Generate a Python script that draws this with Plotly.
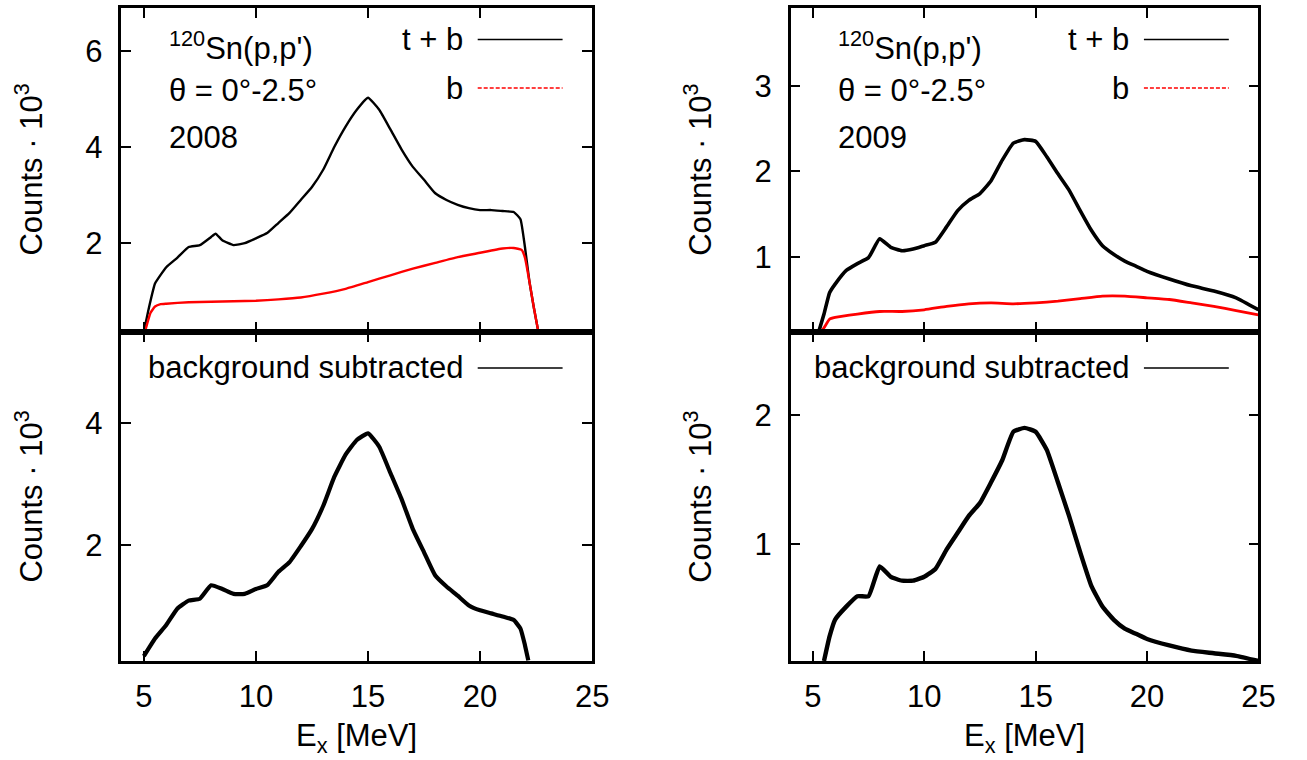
import plotly.graph_objects as go

# ---------------- data (counts in units of 10^3) ----------------
E_tb_2008 = [5.0, 5.25, 5.5, 6.0, 6.5, 7.0, 7.5, 8.0, 8.2, 8.5, 9.0, 9.5, 10.0, 10.5, 11.0, 11.5,
             12.0, 12.5, 13.0, 13.5, 14.0, 14.5, 15.0, 15.5, 16.0, 16.5, 17.0, 17.5, 18.0, 18.5,
             19.0, 19.5, 20.0, 20.5, 21.0, 21.5, 21.8, 22.0, 22.2, 22.4, 22.6]
C_tb_2008 = [0.15, 0.70, 1.16, 1.50, 1.70, 1.92, 1.96, 2.13, 2.20, 2.06, 1.96, 2.00, 2.10, 2.21, 2.42, 2.63,
             2.90, 3.17, 3.53, 4.01, 4.43, 4.78, 5.03, 4.78, 4.37, 3.95, 3.59, 3.32, 3.04, 2.90,
             2.80, 2.73, 2.69, 2.69, 2.67, 2.65, 2.50, 1.92, 1.20, 0.65, 0.15]

E_b_2008 = [5.05, 5.3, 5.5, 5.75, 6.0, 7.0, 8.0, 9.0, 10.0, 11.0, 12.0, 13.0, 14.0, 15.0, 16.0, 17.0,
            18.0, 19.0, 20.0, 21.0, 21.5, 21.85, 22.0, 22.2, 22.4, 22.6]
C_b_2008 = [0.15, 0.55, 0.68, 0.73, 0.74, 0.77, 0.78, 0.79, 0.80, 0.83, 0.87, 0.95, 1.05, 1.19, 1.33, 1.47,
            1.59, 1.71, 1.80, 1.89, 1.90, 1.86, 1.70, 1.20, 0.65, 0.15]

E_sub_2008 = [5.0, 5.5, 6.0, 6.5, 7.0, 7.5, 8.0, 8.5, 9.0, 9.5, 10.0, 10.5, 11.0, 11.5, 12.0, 12.5,
              13.0, 13.5, 14.0, 14.5, 15.0, 15.5, 16.0, 16.5, 17.0, 17.5, 18.0, 18.5, 19.0, 19.5,
              20.0, 20.5, 21.0, 21.5, 21.8, 22.0, 22.15]
C_sub_2008 = [0.18, 0.47, 0.69, 0.96, 1.09, 1.12, 1.34, 1.28, 1.20, 1.20, 1.28, 1.34, 1.56, 1.72, 1.98, 2.26,
              2.64, 3.12, 3.48, 3.72, 3.83, 3.61, 3.18, 2.75, 2.26, 1.88, 1.50, 1.32, 1.17, 1.01,
              0.93, 0.88, 0.83, 0.77, 0.63, 0.36, 0.11]

E_tb_2009 = [5.26, 5.5, 5.75, 6.0, 6.5, 7.0, 7.5, 8.0, 8.5, 9.0, 9.5, 10.0, 10.5, 11.0, 11.5, 12.0,
             12.5, 13.0, 13.5, 14.0, 14.5, 15.0, 15.5, 16.0, 16.5, 17.0, 17.5, 18.0, 18.5, 19.0,
             19.5, 20.0, 21.0, 22.0, 23.0, 24.0, 25.0]
C_tb_2009 = [0.12, 0.33, 0.58, 0.68, 0.84, 0.92, 0.99, 1.21, 1.11, 1.07, 1.09, 1.13, 1.17, 1.35, 1.54, 1.66,
             1.74, 1.89, 2.13, 2.33, 2.37, 2.35, 2.17, 1.97, 1.78, 1.54, 1.31, 1.13, 1.03, 0.95,
             0.89, 0.83, 0.74, 0.66, 0.60, 0.52, 0.38]

E_b_2009 = [5.35, 5.5, 5.75, 6.0, 7.0, 8.0, 9.0, 10.0, 11.0, 12.0, 13.0, 14.0, 15.0, 16.0, 17.0, 18.0,
            19.0, 20.0, 21.0, 22.0, 23.0, 24.0, 25.0]
C_b_2009 = [0.12, 0.17, 0.27, 0.29, 0.33, 0.36, 0.36, 0.38, 0.42, 0.45, 0.46, 0.45, 0.46, 0.48, 0.51, 0.54,
            0.54, 0.52, 0.50, 0.46, 0.42, 0.37, 0.32]

E_sub_2009 = [5.5, 5.75, 6.0, 6.5, 7.0, 7.5, 8.0, 8.5, 9.0, 9.5, 10.0, 10.5, 11.0, 11.5, 12.0, 12.5,
              13.0, 13.5, 14.0, 14.5, 15.0, 15.5, 16.0, 16.5, 17.0, 17.5, 18.0, 18.5, 19.0, 19.5,
              20.0, 21.0, 22.0, 23.0, 24.0, 25.0]
C_sub_2009 = [0.10, 0.29, 0.42, 0.52, 0.60, 0.60, 0.83, 0.75, 0.72, 0.72, 0.75, 0.81, 0.96, 1.09, 1.22, 1.32,
              1.48, 1.65, 1.87, 1.90, 1.87, 1.73, 1.48, 1.22, 0.94, 0.68, 0.52, 0.42, 0.35, 0.31,
              0.27, 0.22, 0.18, 0.16, 0.14, 0.10]

x_ticks = [5, 10, 15, 20, 25]
y_ticks_tl = [2, 4, 6]
y_ticks_bl = [2, 4]
y_ticks_tr = [1, 2, 3]
y_ticks_br = [1, 2]

years = ["2008", "2009"]

# ---------------- geometry helpers ----------------
W, H = 1307, 760
def px(x):
    return x / W
def py(y):
    return 1 - y / H

FONT = "Liberation Sans, Arial, Helvetica, sans-serif"
FS = 31

left_dom = [px(123), px(600)]
right_dom = [px(801), px(1275)]
top_dom = [py(332), py(8)]
bot_dom = [py(661), py(332)]

fig = go.Figure()

def add_line(x, y, xa, ya, color, width):
    fig.add_trace(go.Scatter(x=x, y=y, xaxis=xa, yaxis=ya, mode="lines",
                             line=dict(color=color, width=width, shape="spline", smoothing=0.4),
                             showlegend=False, hoverinfo="skip"))

add_line(E_tb_2008, C_tb_2008, "x", "y", "black", 2.4)
add_line(E_b_2008, C_b_2008, "x", "y", "#ff0000", 2.4)
add_line(E_sub_2008, C_sub_2008, "x2", "y2", "black", 4.2)
add_line(E_tb_2009, C_tb_2009, "x3", "y3", "black", 3.6)
add_line(E_b_2009, C_b_2009, "x3", "y3", "#ff0000", 2.8)
add_line(E_sub_2009, C_sub_2009, "x4", "y4", "black", 4.4)

def axstyle(**kw):
    d = dict(showline=True, linecolor="black", linewidth=2.5, mirror="allticks",
             ticks="inside", ticklen=10, tickwidth=2, tickcolor="black",
             showgrid=False, zeroline=False,
             tickfont=dict(family=FONT, size=FS, color="black"))
    d.update(kw)
    return d

fig.update_layout(
    width=W, height=H,
    margin=dict(l=0, r=0, t=0, b=0),
    paper_bgcolor="white", plot_bgcolor="white",
    showlegend=False,
    xaxis=axstyle(domain=left_dom, anchor="y", range=[4, 25], tickvals=x_ticks, showticklabels=False),
    yaxis=axstyle(domain=top_dom, anchor="x", range=[0.15, 6.9], tickvals=y_ticks_tl, ticklabelstandoff=10),
    xaxis2=axstyle(domain=left_dom, anchor="y2", range=[4, 25], tickvals=x_ticks, ticklabelstandoff=6),
    yaxis2=axstyle(domain=bot_dom, anchor="x2", range=[0.1, 5.49], tickvals=y_ticks_bl, ticklabelstandoff=10),
    xaxis3=axstyle(domain=right_dom, anchor="y3", range=[4, 25], tickvals=x_ticks, showticklabels=False),
    yaxis3=axstyle(domain=top_dom, anchor="x3", range=[0.12, 3.91], tickvals=y_ticks_tr, ticklabelstandoff=10),
    xaxis4=axstyle(domain=right_dom, anchor="y4", range=[4, 25], tickvals=x_ticks, ticklabelstandoff=6),
    yaxis4=axstyle(domain=bot_dom, anchor="x4", range=[0.1, 2.64], tickvals=y_ticks_br, ticklabelstandoff=10),
)

ann = []
shapes = []
def text(x, y, s, xanchor="left", yanchor="middle", angle=0, size=FS):
    ann.append(dict(x=px(x), y=py(y), xref="paper", yref="paper", text=s, showarrow=False,
                    xanchor=xanchor, yanchor=yanchor, textangle=angle,
                    font=dict(family=FONT, size=size, color="black")))

def seg(x0, x1, y, color, width, dash="solid"):
    shapes.append(dict(type="line", xref="paper", yref="paper", x0=px(x0), x1=px(x1),
                       y0=py(y), y1=py(y), line=dict(color=color, width=width, dash=dash)))

for i, (fl, fr) in enumerate([(123, 600), (801, 1275)]):
    tx = fl + 46
    text(tx, 46, "<sup>120</sup>Sn(p,p')")
    text(tx, 90, "θ = 0°-2.5°")
    text(tx, 137, years[i])
    lx = fr - 129
    text(lx, 40, "t + b", xanchor="right")
    text(lx, 88, "b", xanchor="right")
    text(lx, 367, "background subtracted", xanchor="right")
    seg(fr - 116, fr - 30, 39.5, "black", 1.3)
    seg(fr - 116, fr - 30, 88, "#ff0000", 1.5, dash="4px,2px")
    seg(fr - 116, fr - 30, 368, "black", 1.3)
    # thick border shared between panels
    seg(fl, fr, 332, "black", 5)
    # axis titles
    text(fl - 94, 170, "Counts · 10<sup>3</sup>", xanchor="center", angle=-90)
    text(fl - 94, 497, "Counts · 10<sup>3</sup>", xanchor="center", angle=-90)
    text((fl + fr) / 2, 738, "E<sub>x</sub> [MeV]", xanchor="center")

fig.update_layout(annotations=ann, shapes=shapes)
fig.write_html("out.html")
